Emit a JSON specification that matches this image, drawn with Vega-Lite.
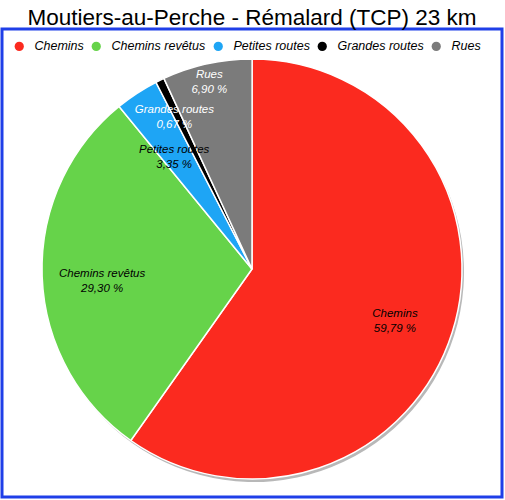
{
  "$schema": "https://vega.github.io/schema/vega-lite/v6.json",
  "width": 500,
  "height": 468,
  "autosize": "none",
  "padding": {"left": 2, "top": 29, "right": 3, "bottom": 3},
  "background": "white",
  "view": {"stroke": "#1f3fe8", "strokeWidth": 3},
  "title": {
    "text": "Moutiers-au-Perche - Rémalard (TCP) 23 km",
    "font": "Liberation Sans",
    "fontSize": 22.5,
    "fontWeight": "normal",
    "color": "black",
    "anchor": "middle",
    "offset": 0
  },
  "data": {
    "values": [
      {"Type": "Chemins", "Part": 59.79, "ordre": 1},
      {"Type": "Chemins revêtus", "Part": 29.30, "ordre": 2},
      {"Type": "Petites routes", "Part": 3.35, "ordre": 3},
      {"Type": "Grandes routes", "Part": 0.67, "ordre": 4},
      {"Type": "Rues", "Part": 6.90, "ordre": 5}
    ]
  },
  "transform": [
    {"stack": "Part", "groupby": [], "sort": [{"field": "ordre"}], "as": ["debut", "fin"]},
    {"calculate": "(datum.debut + datum.fin) / 2", "as": "milieu"},
    {"calculate": "datum.Type + '\\n' + replace(format(datum.Part, '.2f'), '.', ',') + ' %'", "as": "etiquette"}
  ],
  "layer": [
    {
      "mark": {"type": "arc", "outerRadius": 210, "fill": "#333333", "opacity": 0.35, "xOffset": 2, "yOffset": 9},
      "encoding": {
        "theta": {"field": "debut", "type": "quantitative", "scale": {"domain": [0, 100]}},
        "theta2": {"field": "fin"}
      }
    },
    {
      "mark": {"type": "arc", "outerRadius": 210, "stroke": "white", "strokeWidth": 1.5, "yOffset": 6},
      "encoding": {
        "theta": {"field": "debut", "type": "quantitative"},
        "theta2": {"field": "fin"},
        "color": {
          "field": "Type",
          "type": "nominal",
          "title": null,
          "sort": ["Chemins", "Chemins revêtus", "Petites routes", "Grandes routes", "Rues"],
          "scale": {
            "domain": ["Chemins", "Chemins revêtus", "Petites routes", "Grandes routes", "Rues"],
            "range": ["#fb2a1f", "#66d34a", "#1ea5f5", "#000000", "#7b7b7b"]
          },
          "legend": {
            "orient": "top-left",
            "direction": "horizontal",
            "offset": 11,
            "symbolType": "circle",
            "symbolSize": 85,
            "symbolStrokeWidth": 0,
            "symbolOpacity": 1,
            "labelFont": "Liberation Sans",
            "labelFontStyle": "italic",
            "labelFontSize": 12.5,
            "labelColor": "black",
            "labelOffset": 9,
            "columnPadding": 6
          }
        }
      }
    },
    {
      "transform": [{"filter": "datum.ordre <= 2"}],
      "mark": {"type": "text", "radius": 150, "yOffset": 6, "lineBreak": "\n", "font": "Liberation Sans", "fontStyle": "italic", "fontSize": 11.5, "color": "black", "lineHeight": 15},
      "encoding": {"theta": {"field": "milieu", "type": "quantitative"}, "text": {"field": "etiquette"}}
    },
    {
      "transform": [{"filter": "datum.ordre == 3"}],
      "mark": {"type": "text", "radius": 142, "yOffset": 6, "lineBreak": "\n", "font": "Liberation Sans", "fontStyle": "italic", "fontSize": 11.5, "color": "black", "lineHeight": 15},
      "encoding": {"theta": {"field": "milieu", "type": "quantitative"}, "text": {"field": "etiquette"}}
    },
    {
      "transform": [{"filter": "datum.ordre == 4"}],
      "mark": {"type": "text", "radius": 177, "yOffset": 6, "lineBreak": "\n", "font": "Liberation Sans", "fontStyle": "italic", "fontSize": 11.5, "color": "white", "lineHeight": 15},
      "encoding": {"theta": {"field": "milieu", "type": "quantitative"}, "text": {"field": "etiquette"}}
    },
    {
      "transform": [{"filter": "datum.ordre == 5"}],
      "mark": {"type": "text", "radius": 199, "yOffset": 6, "lineBreak": "\n", "font": "Liberation Sans", "fontStyle": "italic", "fontSize": 11.5, "color": "white", "lineHeight": 15},
      "encoding": {"theta": {"field": "milieu", "type": "quantitative"}, "text": {"field": "etiquette"}}
    }
  ],
  "config": {
    "view": {"stroke": "#1f3fe8", "strokeWidth": 3},
    "style": {"view": {"stroke": "#1f3fe8", "strokeWidth": 3}}
  }
}
